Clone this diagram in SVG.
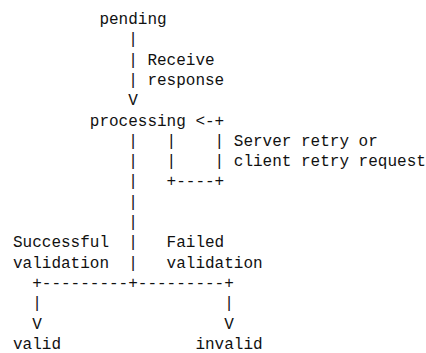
<svg xmlns="http://www.w3.org/2000/svg" width="426" height="353" viewBox="0 0 426 353">
  <style>
    text { font-family: "Liberation Mono", "DejaVu Sans Mono", monospace; font-size: 16px; fill: #111; white-space: pre; }
  </style>
  <rect width="426" height="353" fill="#ffffff"/>

  <!-- monospaced grid: column c at x = 13 + 9.6*c, row r baseline at y = 24 + 20.3*r -->

  <g id="connectors">
    <!-- pending -> processing -->
    <text x="128.2" y="44.3">|</text>
    <text x="128.2" y="64.6">|</text>
    <text x="128.2" y="84.9">|</text>
    <text x="128.2" y="105.2">V</text>

    <!-- retry loop on processing -->
    <text x="195.4" y="125.5">&lt;-+</text>
    <text x="166.6" y="145.8">|    |</text>
    <text x="166.6" y="166.1">|    |</text>
    <text x="166.6" y="186.4">+----+</text>

    <!-- trunk down to the split -->
    <text x="128.2" y="145.8">|</text>
    <text x="128.2" y="166.1">|</text>
    <text x="128.2" y="186.4">|</text>
    <text x="128.2" y="206.7">|</text>
    <text x="128.2" y="227">|</text>
    <text x="128.2" y="247.3">|</text>
    <text x="128.2" y="267.6">|</text>
    <text x="32.2" y="287.9">+---------+---------+</text>

    <!-- branches -->
    <text x="32.2" y="308.2">|</text>
    <text x="32.2" y="328.5">V</text>
    <text x="224.2" y="308.2">|</text>
    <text x="224.2" y="328.5">V</text>
  </g>

  <g id="labels">
    <text x="147.4" y="64.6">Receive</text>
    <text x="147.4" y="84.9">response</text>
    <text x="233.8" y="145.8">Server retry or</text>
    <text x="233.8" y="166.1">client retry request</text>
    <text x="13" y="247.3">Successful</text>
    <text x="13" y="267.6">validation</text>
    <text x="166.6" y="247.3">Failed</text>
    <text x="166.6" y="267.6">validation</text>
  </g>

  <g id="pending"><text x="99.4" y="24">pending</text></g>
  <g id="processing"><text x="89.8" y="125.5">processing</text></g>
  <g id="valid"><text x="13" y="348.8">valid</text></g>
  <g id="invalid"><text x="195.4" y="348.8">invalid</text></g>
</svg>
